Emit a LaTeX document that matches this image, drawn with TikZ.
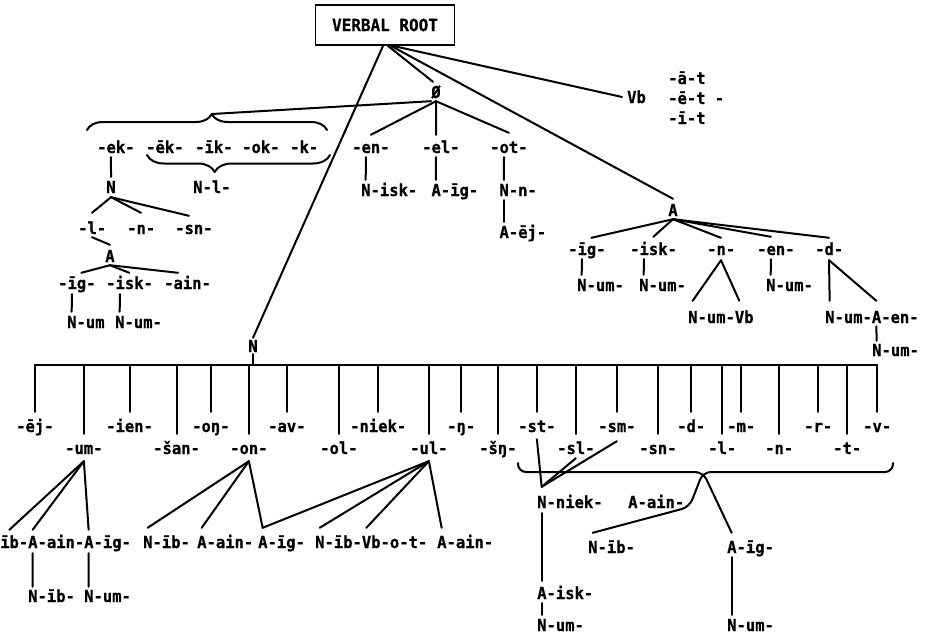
\documentclass[tikz,border=0pt]{standalone}
\usepackage{fontspec}
\newfontfamily\twfont{DejaVu Sans Mono}[BoldFont={DejaVu Sans Mono Bold},
  BoldFeatures={FakeStretch=0.94, FakeBold=0.6}]
\usetikzlibrary{decorations.pathreplacing}
\begin{document}
\begin{tikzpicture}[x=1pt,y=-1pt,
  lbl/.style={font=\fontsize{16.5}{18}\selectfont\twfont\bfseries, inner sep=0pt,
              anchor=west, text height=12pt, text depth=0pt},
  ln/.style={line width=2pt, line cap=round, line join=round},
  curly/.style={ln, decorate, decoration={brace, amplitude=#1}},
]
\def\cw{9.33pt}
\fill[white] (0,0) rectangle (934,637);
\useasboundingbox (0,0) rectangle (934,637);

% ---------- root and first branches ----------
\node[draw, line width=1.8pt, minimum width=139pt, minimum height=40pt, inner sep=0pt,
      font=\fontsize{17}{18}\selectfont\twfont\bfseries] (root) at (385,25) {VERBAL ROOT};
\node[lbl, anchor=center] (zero) at (436,92) {Ø};
\node[lbl] (vb) at (627,97) {Vb};
\node[lbl] (va) at (668,78) {-ā-t};
\node[lbl] (ve) at (668,98) {-ē-t -};
\node[lbl] (vi) at (668,118) {-ī-t};
\node[lbl, anchor=center] (aR) at (673,210) {A};
\node[lbl, anchor=center] (nN) at (253,346) {N};

\draw[ln] ([xshift=-2pt]root.south) -- ([yshift=2pt]nN.north);
\draw[ln] ([xshift=3pt]root.south) -- ([xshift=-3pt,yshift=4pt]zero.north);
\draw[ln] ([xshift=8pt]root.south) -- ([xshift=-5pt]vb.west);
\draw[ln] ([xshift=6pt]root.south) -- ([yshift=5pt]aR.north);

% ---------- zero branch ----------
\node[lbl] (en1) at (352,147) {-en-};
\node[lbl] (el1) at (422,147) {-el-};
\node[lbl] (ot1) at (490,147) {-ot-};
\draw[ln] ([yshift=-3pt]zero.south) -- ([yshift=6pt]en1.north);
\draw[ln] ([yshift=-3pt]zero.south) -- ([xshift=1.5*\cw,yshift=6pt]el1.north west);
\draw[ln] ([yshift=-3pt]zero.south) -- ([yshift=8pt]ot1.north);

\node[lbl] (nisk) at (361,190) {N-isk-};
\node[lbl] (aig1) at (431.3,190) {A-īg-};
\node[lbl] (nn) at (499.3,190) {N-n-};
\node[lbl] (aej) at (499.3,232) {A-ēj-};
\draw[ln] ([xshift=1.5*\cw,yshift=-4pt]en1.south west) -- ([xshift=0.5*\cw,yshift=4pt]nisk.north west);
\draw[ln] ([xshift=1.5*\cw,yshift=-4pt]el1.south west) -- ([xshift=0.5*\cw,yshift=4pt]aig1.north west);
\draw[ln] ([xshift=1.5*\cw,yshift=-4pt]ot1.south west) -- ([xshift=0.5*\cw,yshift=4pt]nn.north west);
\draw[ln] ([xshift=0.5*\cw,yshift=-4pt]nn.south west) -- ([xshift=0.5*\cw,yshift=4pt]aej.north west);

% ---------- left cluster under the braces ----------
\node[lbl] (ek) at (97,147) {-ek-};
\node[lbl] (ek2) at (146,147) {-ēk-};
\node[lbl] (ik) at (195,147) {-īk-};
\node[lbl] (ok) at (242,147) {-ok-};
\node[lbl] (kk) at (290,147) {-k-};
\draw[curly={16pt}, decoration={aspect=0.52}] (87,130) -- (327,130);
\coordinate (btip) at (212,114);
\draw[ln] ([yshift=-3pt]zero.south west) -- (btip);
\draw[curly={17pt}, decoration={aspect=0.63}] (330,155) -- (147,155);
\node[lbl] (nl) at (193,187) {N-l-};

\node[lbl, anchor=center] (nN1) at (111,187) {N};
\draw[ln] ([xshift=1.5*\cw,yshift=-4pt]ek.south west) -- ([yshift=4pt]nN1.north);
\node[lbl] (l1) at (78,228) {-l-};
\node[lbl] (n1) at (127,228) {-n-};
\node[lbl] (sn1) at (175,228) {-sn-};
\draw[ln] ([yshift=-4pt]nN1.south) -- ([xshift=1.5*\cw,yshift=9pt]l1.north west);
\draw[ln] ([yshift=-4pt]nN1.south) -- ([xshift=1.5*\cw,yshift=9pt]n1.north west);
\draw[ln] ([yshift=-4pt]nN1.south) -- ([xshift=1.5*\cw,yshift=6pt]sn1.north west);

\node[lbl, anchor=center] (aL) at (110,256) {A};
\draw[ln] ([xshift=1.5*\cw,yshift=-3pt]l1.south west) -- ([yshift=5pt]aL.north);
\node[lbl] (ig1) at (58,283) {-īg-};
\node[lbl] (isk1) at (106,283) {-isk-};
\node[lbl] (ain1) at (164,283) {-ain-};
\draw[ln] ([yshift=-3pt]aL.south) -- ([xshift=2.5*\cw,yshift=4pt]ig1.north west);
\draw[ln] ([yshift=-3pt]aL.south) -- ([xshift=2.5*\cw,yshift=4pt]isk1.north west);
\draw[ln] ([yshift=-3pt]aL.south) -- ([xshift=1.5*\cw,yshift=4pt]ain1.north west);
\node[lbl] (num1) at (67,322) {N-um};
\node[lbl] (num2) at (115,322) {N-um-};
\draw[ln] ([xshift=1.5*\cw,yshift=-5pt]ig1.south west) -- ([xshift=0.5*\cw,yshift=4pt]num1.north west);
\draw[ln] ([xshift=1.5*\cw,yshift=-5pt]isk1.south west) -- ([xshift=0.5*\cw,yshift=4pt]num2.north west);

% ---------- right A branch ----------
\node[lbl] (ig2) at (568,249) {-īg-};
\node[lbl] (isk2) at (630,249) {-isk-};
\node[lbl] (n2) at (707,249) {-n-};
\node[lbl] (en2) at (757,249) {-en-};
\node[lbl] (d2) at (815,249) {-d-};
\draw[ln] ([yshift=-3pt]aR.south) -- ([xshift=2.5*\cw,yshift=5pt]ig2.north west);
\draw[ln] ([yshift=-3pt]aR.south) -- ([xshift=2.5*\cw,yshift=6pt]isk2.north west);
\draw[ln] ([yshift=-3pt]aR.south) -- ([xshift=1.5*\cw,yshift=5pt]n2.north west);
\draw[ln] ([yshift=-3pt]aR.south) -- ([xshift=1.5*\cw,yshift=6pt]en2.north west);
\draw[ln] ([yshift=-3pt]aR.south) -- ([xshift=1.5*\cw,yshift=5pt]d2.north west);

\node[lbl] (num3) at (577,285) {N-um-};
\node[lbl] (num4) at (639,285) {N-um-};
\node[lbl] (num5) at (766,285) {N-um-};
\draw[ln] ([xshift=1.5*\cw,yshift=-4pt]ig2.south west) -- ([xshift=0.5*\cw,yshift=4pt]num3.north west);
\draw[ln] ([xshift=1.5*\cw,yshift=-4pt]isk2.south west) -- ([xshift=0.5*\cw,yshift=4pt]num4.north west);
\draw[ln] ([xshift=1.5*\cw,yshift=-4pt]en2.south west) -- ([xshift=0.5*\cw,yshift=4pt]num5.north west);

\node[lbl] (numvb) at (688,317) {N-um-Vb};
\draw[ln] ([xshift=1.5*\cw,yshift=-5pt]n2.south west) -- ([xshift=0.5*\cw,yshift=10pt]numvb.north west);
\draw[ln] ([xshift=1.5*\cw,yshift=-5pt]n2.south west) -- ([xshift=5.5*\cw,yshift=10pt]numvb.north west);

\node[lbl] (numaen) at (825,317) {N-um-A-en-};
\node[lbl] (num6) at (872,350) {N-um-};
\draw[ln] ([xshift=1.5*\cw,yshift=-5pt]d2.south west) -- ([xshift=0.5*\cw,yshift=10pt]numaen.north west);
\draw[ln] ([xshift=1.5*\cw,yshift=-5pt]d2.south west) -- ([xshift=5.5*\cw,yshift=10pt]numaen.north west);
\draw[ln] ([xshift=5.5*\cw,yshift=-3pt]numaen.south west) -- ([xshift=0.5*\cw,yshift=3pt]num6.north west);

% ---------- N branch: the long comb ----------
\coordinate (bar) at (253,365);
\draw[ln] ([yshift=-2pt]nN.south) -- (bar);

\node[lbl] (ej)   at (16,426)  {-ēj-};
\node[lbl] (ien)  at (106,426) {-ien-};
\node[lbl] (ong)  at (192,426) {-oŋ-};
\node[lbl] (av)   at (268,426) {-av-};
\node[lbl] (niek) at (350,426) {-niek-};
\node[lbl] (ng)   at (447,426) {-ŋ-};
\node[lbl] (st)   at (518,426) {-st-};
\node[lbl] (sm)   at (598,426) {-sm-};
\node[lbl] (dd)   at (677,426) {-d-};
\node[lbl] (mm)   at (727,426) {-m-};
\node[lbl] (rr)   at (804,426) {-r-};
\node[lbl] (vv)   at (863,426) {-v-};

\node[lbl] (um)   at (65,448)  {-um-};
\node[lbl] (san)  at (153,448) {-šan-};
\node[lbl] (on)   at (230,448) {-on-};
\node[lbl] (ol)   at (320,448) {-ol-};
\node[lbl] (ul)   at (410,448) {-ul-};
\node[lbl] (sng)  at (479,448) {-šŋ-};
\node[lbl] (sl)   at (557,448) {-sl-};
\node[lbl] (sn)   at (639,448) {-sn-};
\node[lbl] (ll)   at (708,448) {-l-};
\node[lbl] (nnn)  at (765,448) {-n-};
\node[lbl] (tt)   at (833,448) {-t-};

\draw[ln] (ej.north |- bar) -- (vv.north |- bar);
\foreach \n in {ej,ien,ong,av,niek,ng,st,sm,dd,mm,rr,vv,um,san,on,ol,ul,sng,sl,sn,ll,nnn,tt}
  \draw[ln] (\n.north |- bar) -- ([yshift=8pt]\n.north);

% children of -um-
\node[lbl] (c1) at (0,542) {īb-A-ain-A-īg-};
\draw[ln] ([yshift=-7pt]um.south) -- ([xshift=1*\cw,yshift=6pt]c1.north west);
\draw[ln] ([yshift=-7pt]um.south) -- ([xshift=3.5*\cw,yshift=6pt]c1.north west);
\draw[ln] ([yshift=-7pt]um.south) -- ([xshift=9.5*\cw,yshift=6pt]c1.north west);
\node[lbl] (c1a) at (28,596) {N-īb-};
\node[lbl] (c1b) at (84,596) {N-um-};
\draw[ln] ([xshift=3.5*\cw,yshift=-5pt]c1.south west) -- ([xshift=0.5*\cw,yshift=3pt]c1a.north west);
\draw[ln] ([xshift=9.5*\cw,yshift=-5pt]c1.south west) -- ([xshift=0.5*\cw,yshift=3pt]c1b.north west);

% children of -on- and -ul-
\node[lbl] (c2) at (143,542) {N-īb-};
\node[lbl] (c3) at (197,542) {A-ain-};
\node[lbl] (c4) at (258,542) {A-īg-};
\node[lbl] (c5) at (315,542) {N-īb-Vb-o-t-};
\node[lbl] (c6) at (437,542) {A-ain-};
\draw[ln] ([yshift=-7pt]on.south) -- ([xshift=0.5*\cw,yshift=8pt]c2.north west);
\draw[ln] ([yshift=-7pt]on.south) -- ([xshift=0.5*\cw,yshift=8pt]c3.north west);
\draw[ln] ([yshift=-7pt]on.south) -- ([xshift=0.5*\cw,yshift=8pt]c4.north west);
\draw[ln] ([yshift=-7pt]ul.south) -- ([xshift=0.5*\cw,yshift=8pt]c4.north west);
\draw[ln] ([yshift=-7pt]ul.south) -- ([xshift=0.5*\cw,yshift=8pt]c5.north west);
\draw[ln] ([yshift=-7pt]ul.south) -- ([xshift=5.5*\cw,yshift=8pt]c5.north west);
\draw[ln] ([yshift=-7pt]ul.south) -- ([xshift=0.5*\cw,yshift=8pt]c6.north west);

% the crossed brace and its derivatives
\node[lbl] (nniek) at (537,502) {N-niek-};
\node[lbl] (aain)  at (628,502) {A-ain-};
\node[lbl] (nib)   at (588,547) {N-īb-};
\node[lbl] (aig3)  at (727,547) {A-īg-};
\node[lbl] (aisk)  at (537,593) {A-isk-};
\node[lbl] (num7)  at (537,625) {N-um-};
\node[lbl] (num8)  at (727,625) {N-um-};

\coordinate (tip) at ([xshift=0.5*\cw,yshift=9pt]nniek.north west);
\draw[ln] ([yshift=-7pt]st.south) -- (tip);
\draw[ln] ([yshift=-4pt]sl.south) -- (tip);
\draw[ln] ([yshift=-9pt]sm.south) -- (tip);
\draw[ln] ([xshift=0.5*\cw,yshift=-5pt]nniek.south west) -- ([xshift=0.5*\cw,yshift=6pt]aisk.north west);
\draw[ln] ([xshift=0.5*\cw,yshift=-4pt]aisk.south west) -- ([xshift=0.5*\cw,yshift=4pt]num7.north west);
\draw[ln] ([xshift=0.5*\cw,yshift=-4pt]aig3.south west) -- ([xshift=0.5*\cw,yshift=4pt]num8.north west);

\coordinate (bL) at (518,463);
\coordinate (bR) at (893,463);
\coordinate (bx) at (703,472);
\draw[ln, rounded corners=8pt] (bL) -- (bL |- bx) -- (bx) -- ([xshift=0.5*\cw,yshift=8pt]aig3.north west);
\draw[ln, rounded corners=8pt] (bR) -- (bR |- bx) -- (bx) -- ([xshift=5pt,yshift=-5pt]aain.east)
      -- ([xshift=0.5*\cw,yshift=8pt]nib.north west);
\end{tikzpicture}
\end{document}
